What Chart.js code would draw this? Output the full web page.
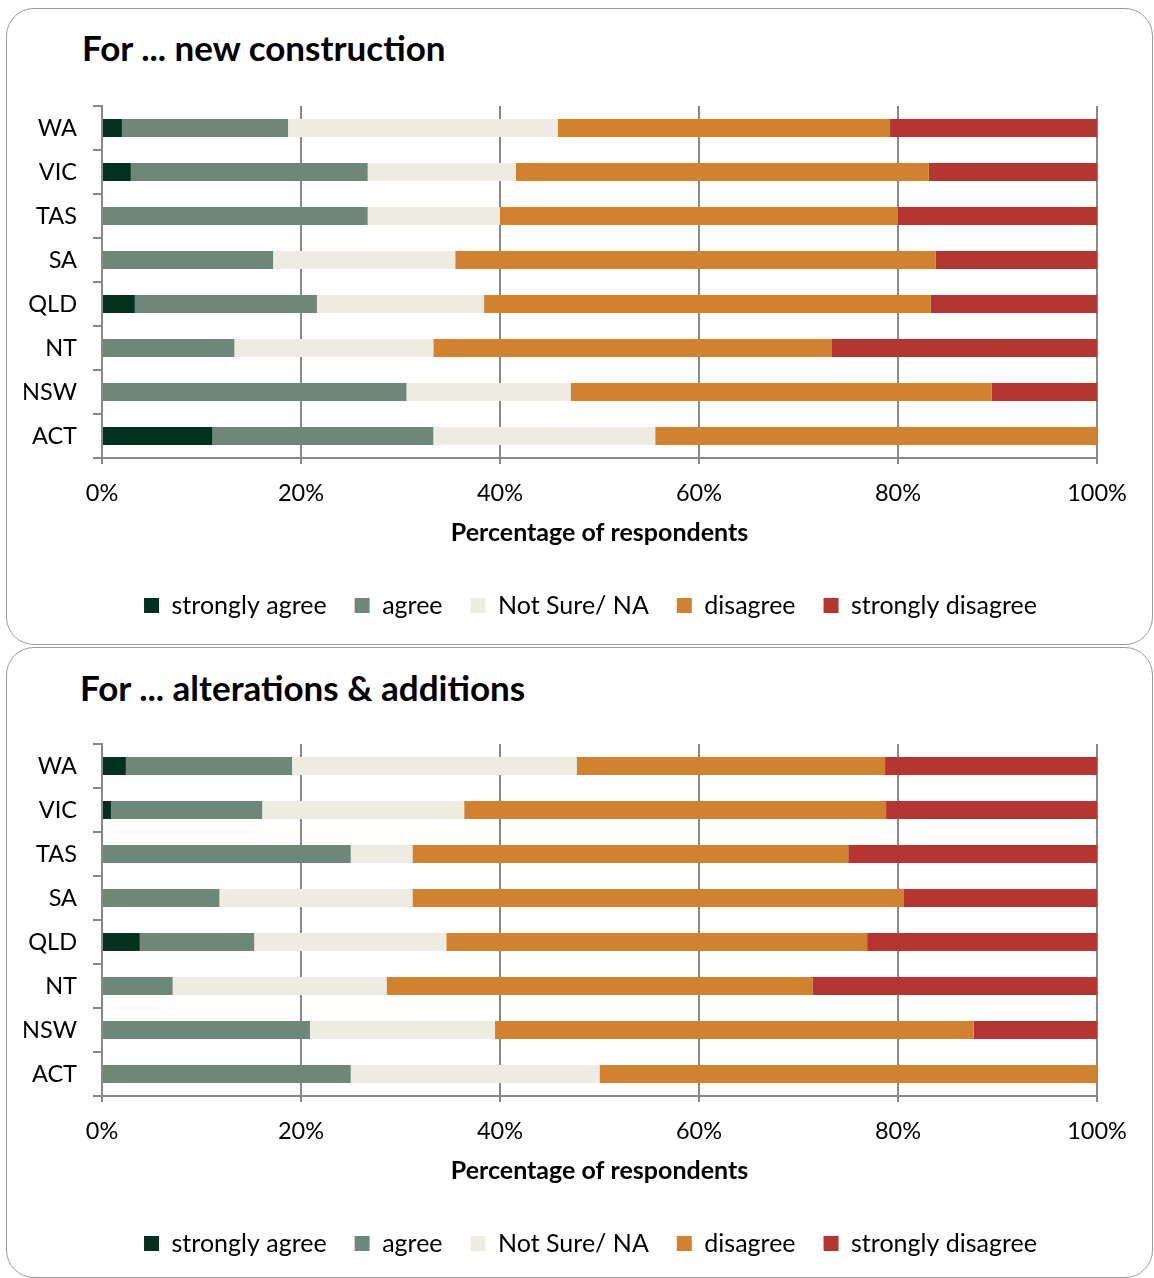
<!DOCTYPE html>
<html>
<head>
<meta charset="utf-8">
<script src="https://cdn.jsdelivr.net/npm/chart.js@4.4.1/dist/chart.umd.min.js"></script>
<style>
  html, body { margin: 0; padding: 0; background: #fff; overflow: hidden; }
  body { width: 1154px; height: 1278px; position: relative; font-family: Lato, "Open Sans", sans-serif; }
  .panel { position: absolute; left: 6px; width: 1147px; box-sizing: border-box;
           border: 1.5px solid #9a9a9a; border-radius: 28px; }
  .title { position: absolute; left: 82px; font: bold 35px Lato, sans-serif; line-height: 40px; color: #000; white-space: nowrap; }
  canvas { position: absolute; left: 0; }
</style>
</head>
<body>
<div class="panel" style="top:8px;height:637px"></div>
<div class="panel" style="top:647px;height:631px"></div>
<div class="title" style="top:27px">For ... new construction</div>
<div class="title" style="top:667px;left:80px">For ... alterations &amp; additions</div>
<canvas id="chartNew" width="1154" height="550" style="top:90px"></canvas>
<canvas id="chartAlt" width="1154" height="550" style="top:728px"></canvas>
<script>
// categories and series
const states = ['WA', 'VIC', 'TAS', 'SA', 'QLD', 'NT', 'NSW', 'ACT'];
const seriesNames = ['strongly agree', 'agree', 'Not Sure/ NA', 'disagree', 'strongly disagree'];
const xTicks = [0, 20, 40, 60, 80, 100];

// new construction (% of respondents)
const newStrongAgree    = [2.0, 2.9, 0, 0, 3.3, 0, 0, 11.1];
const newAgree          = [16.7, 23.8, 26.7, 17.2, 18.3, 13.3, 30.6, 22.2];
const newNotSure        = [27.1, 14.9, 13.3, 18.3, 16.8, 20.0, 16.5, 22.3];
const newDisagree       = [33.4, 41.5, 40.0, 48.3, 44.9, 40.0, 42.3, 44.4];
const newStrongDisagree = [20.8, 16.9, 20.0, 16.2, 16.7, 26.7, 10.6, 0];

// alterations & additions (% of respondents)
const altStrongAgree    = [2.4, 0.9, 0, 0, 3.8, 0, 0, 0];
const altAgree          = [16.7, 15.2, 25.0, 11.8, 11.5, 7.1, 20.9, 25.0];
const altNotSure        = [28.6, 20.3, 6.2, 19.4, 19.3, 21.5, 18.6, 25.0];
const altDisagree       = [31.0, 42.4, 43.8, 49.4, 42.3, 42.8, 48.1, 50.0];
const altStrongDisagree = [21.3, 21.2, 25.0, 19.4, 23.1, 28.6, 12.4, 0];

const colors = ['#03301F', '#6D8878', '#EEECE1', '#D0822E', '#B53531'];
const axisGray = '#888888';

// the original legend sits a bit right of the canvas centre
const legendShift = {
    id: 'legendShift',
    afterLayout(chart) {
        chart.legend.left += 42;
        chart.legend.right += 42;
    }
};

function makeChart(id, seriesValues) {
    const ctx = document.getElementById(id).getContext('2d');
    return new Chart(ctx, {
        type: 'bar',
        data: {
            labels: states,
            datasets: seriesValues.map((vals, i) => ({
                label: seriesNames[i],
                data: vals,
                backgroundColor: colors[i],
                borderWidth: 0,
                barPercentage: 0.41,
                categoryPercentage: 1.0
            }))
        },
        options: {
            indexAxis: 'y',
            responsive: false,
            animation: false,
            layout: { padding: { top: 16, right: 57, bottom: 12, left: 0 } },
            scales: {
                x: {
                    stacked: true,
                    min: 0,
                    max: 100,
                    afterBuildTicks: (scale) => { scale.ticks = xTicks.map(v => ({ value: v })); },
                    afterFit: (scale) => { scale.height = 107; },
                    grid: { color: axisGray, lineWidth: 2, drawTicks: true, tickLength: 6, tickColor: axisGray },
                    border: { display: true, color: axisGray, width: 2 },
                    ticks: {
                        padding: 15,
                        color: '#000',
                        font: { family: 'Lato', size: 23.5 },
                        callback: (v) => v + '%'
                    },
                    title: {
                        display: true,
                        text: 'Percentage of respondents',
                        color: '#000',
                        font: { family: 'Lato', size: 25, weight: 'bold' },
                        padding: { top: 0, bottom: 17 }
                    }
                },
                y: {
                    stacked: true,
                    afterFit: (scale) => {
                        scale.width = 102;
                        scale.paddingTop = 0;
                        scale.paddingBottom = 0;
                    },
                    grid: { offset: true, drawOnChartArea: false, drawTicks: true, tickLength: 9, color: axisGray, lineWidth: 2 },
                    border: { display: true, color: axisGray, width: 2 },
                    ticks: { padding: 16, color: '#000', font: { family: 'Lato', size: 23.5 } }
                }
            },
            plugins: {
                tooltip: { enabled: false },
                legend: {
                    position: 'bottom',
                    labels: {
                        boxWidth: 15,
                        boxHeight: 15,
                        padding: 28,
                        color: '#000',
                        font: { family: 'Lato', size: 25 }
                    }
                }
            }
        },
        plugins: [legendShift]
    });
}

makeChart('chartNew', [newStrongAgree, newAgree, newNotSure, newDisagree, newStrongDisagree]);
makeChart('chartAlt', [altStrongAgree, altAgree, altNotSure, altDisagree, altStrongDisagree]);
</script>
</body>
</html>
